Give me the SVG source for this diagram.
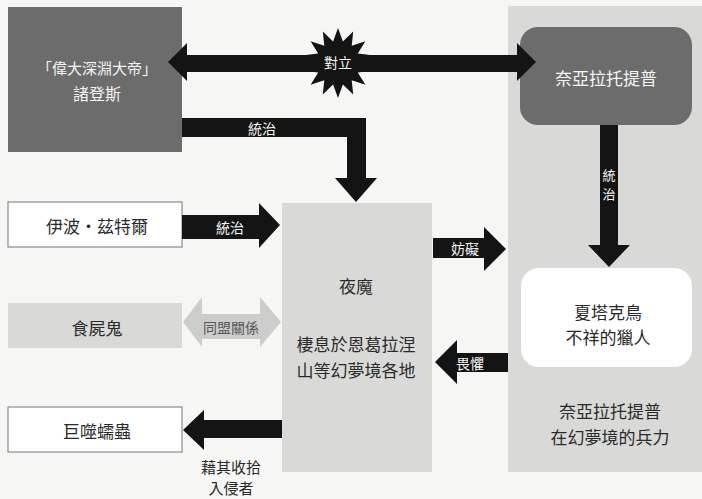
<svg xmlns="http://www.w3.org/2000/svg" width="702" height="499" viewBox="0 0 702 499">
<style>
text{font-family:"Noto Sans CJK TC","Noto Sans CJK SC",sans-serif;text-anchor:middle;dominant-baseline:central}
.lbl{font-size:17px;fill:#2a2a2a}
.wl{font-size:16px;fill:#f4f4f4}
.al{font-size:14px;fill:#f4f4f4}
.dark{fill:#6c6c6c}
.light{fill:#d9d9d7}
.white{fill:#ffffff;stroke:#8a8a8a;stroke-width:1.2}
.arr{fill:#141414}
</style>
<rect width="702" height="499" fill="#f6f6f4"/>
<g id="panel-right"><rect x="508" y="6" width="194" height="466" class="light"/>
<text class="lbl" x="610" y="410">奈亞拉托提普</text><text class="lbl" x="610" y="436">在幻夢境的兵力</text></g>
<g id="node-nodens"><rect x="8" y="7" width="174" height="145" class="dark"/>
<text class="wl" x="97" y="67" style="font-size:15px">「偉大深淵大帝」</text><text class="wl" x="97" y="93">諸登斯</text></g>
<g id="node-nyarlathotep"><rect x="520" y="27" width="172" height="98" rx="18" class="dark"/>
<text class="wl" x="606" y="77" style="font-size:17px">奈亞拉托提普</text></g>
<g id="node-shantak"><rect x="521" y="268" width="171" height="99" rx="18" fill="#ffffff"/>
<text class="lbl" x="608" y="311">夏塔克鳥</text><text class="lbl" x="608" y="336">不祥的獵人</text></g>
<g id="node-ibt"><rect x="8" y="202" width="174" height="45" class="white"/><text class="lbl" x="97" y="225">伊波・茲特爾</text></g>
<g id="node-ghoul"><rect x="8" y="303" width="174" height="45" class="light"/><text class="lbl" x="97" y="327">食屍鬼</text></g>
<g id="node-gug"><rect x="8" y="407" width="174" height="45" class="white"/><text class="lbl" x="97" y="430">巨噬蠕蟲</text></g>
<g id="node-nightgaunt"><rect x="282" y="203" width="150" height="269" class="light"/>
<text class="lbl" x="356" y="285">夜魔</text><text class="lbl" x="356" y="343">棲息於恩葛拉涅</text><text class="lbl" x="356" y="369">山等幻夢境各地</text></g>
<g id="connectors">
<polygon class="arr" points="168,62 187,43 187,55 517,55 517,43 536,62 517,81 517,72 187,72 187,81"/>
<polygon class="arr" points="338,28 342.9,41.6 353.2,31.5 351.7,45.8 365.4,41.2 357.8,53.5 372.1,55.2 360,63 372.1,70.8 357.8,72.5 365.4,84.8 351.7,80.2 353.2,94.5 342.9,84.4 338,98 333.1,84.4 322.8,94.5 324.3,80.2 310.6,84.8 318.2,72.5 303.9,70.8 316,63 303.9,55.2 318.2,53.5 310.6,41.2 324.3,45.8 322.8,31.5 333.1,41.6"/>
<text class="al" x="338" y="62">對立</text>
<polygon class="arr" points="182,118 366,118 366,178 377,178 356,202 335,178 347,178 347,137 182,137"/>
<text class="al" x="262" y="128">統治</text>
<polygon class="arr" points="182,215 259,215 259,203 280,225 259,248 259,239 182,239"/>
<text class="al" x="230" y="227">統治</text>
<polygon class="arr" points="433,238 484,238 484,227 506,249 484,271 484,258 433,258"/>
<text class="al" x="465" y="248">妨礙</text>
<polygon class="arr" points="600,125 618,125 618,245 630,245 609,267 588,245 600,245"/>
<text class="al" x="609" y="174" style="font-size:13px">統</text><text class="al" x="609" y="193" style="font-size:13px">治</text>
<polygon class="arr" points="508,353 457,353 457,340 435,362 457,384 457,372 508,372"/>
<text class="al" x="470" y="363">畏懼</text>
<polygon fill="#cdcdcb" points="183,322 202,297 202,314 260,314 260,297 281,322 260,347 260,339 202,339 202,347"/>
<text class="al" x="231" y="327" style="fill:#555">同盟關係</text>
<polygon class="arr" points="282,420 204,420 204,410 183,430 204,450 204,438 282,438"/>
<text class="lbl" x="231" y="466" style="font-size:15px">藉其收拾</text><text class="lbl" x="231" y="487" style="font-size:15px">入侵者</text>
</g>
</svg>
